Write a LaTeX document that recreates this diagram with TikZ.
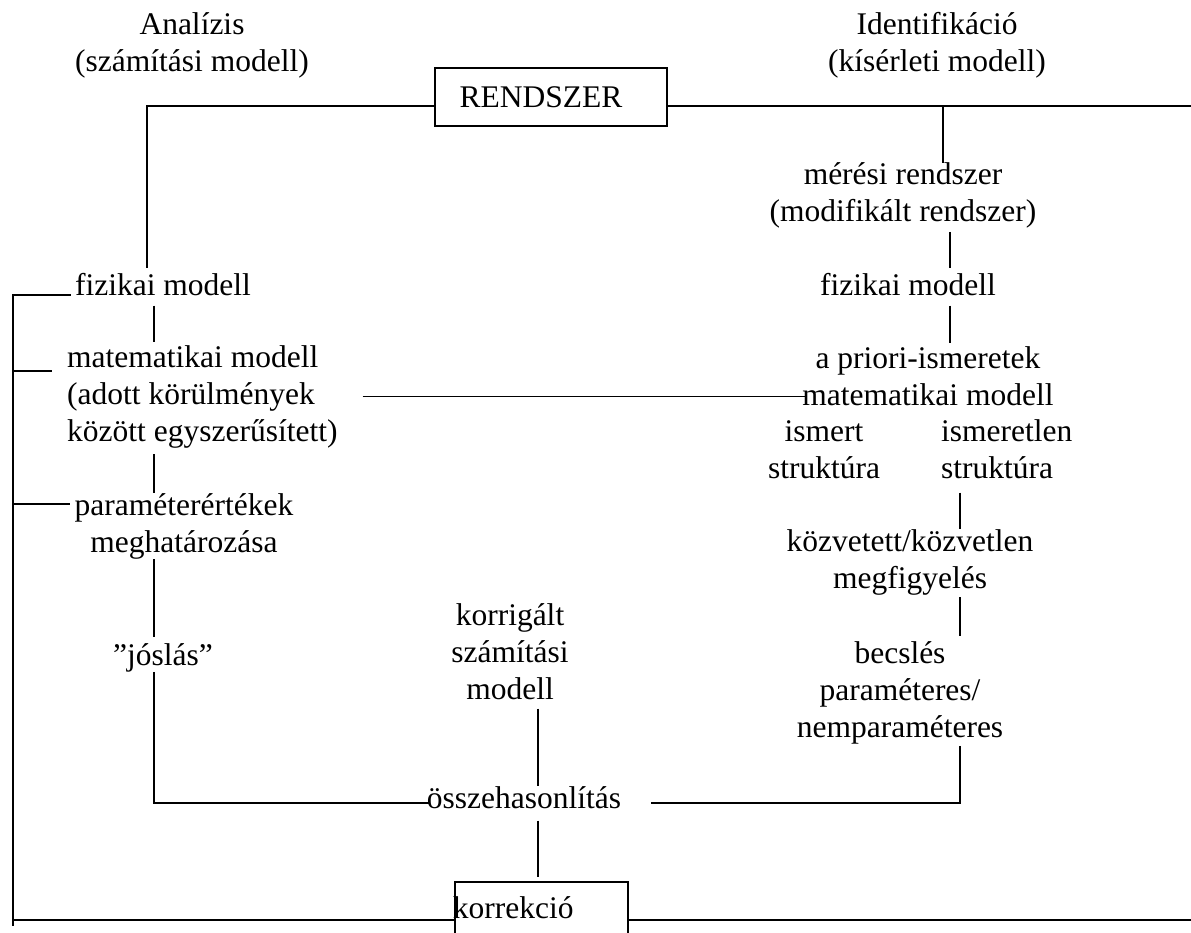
\documentclass[tikz,border=0pt]{standalone}
\usepackage{fontspec}
\setmainfont{Liberation Serif}[Ligatures=NoCommon]
\tikzset{
  lbl/.style={inner sep=0pt, anchor=base, align=center, font=\fontsize{31.5}{37}\selectfont},
  lblL/.style={lbl, anchor=base west, align=left},
  box/.style={draw, line width=1.6pt},
  ln/.style={line width=1.6pt}
}
\begin{document}
\begin{tikzpicture}[x=1pt,y=-1pt]
\useasboundingbox (0,0) rectangle (1191,933);
% headings and the system (multi-line nodes sit on their last baseline)
\node[lbl] (ana) at (192,72) {Analízis\\(számítási modell)};
\node[lbl] (ide) at (937,72) {Identifikáció\\(kísérleti modell)};
\node[lbl, box, anchor=center, minimum width=232pt, minimum height=58pt] (rsz) at (551,97) {RENDSZER\hspace{20pt}};
% left column
\node[lbl] (fizL) at (163,295) {fizikai modell};
\node[lblL] (matL) at (67,441) {matematikai modell\\(adott körülmények\\között egyszerűsített)};
\node[lbl] (parL) at (184,552) {paraméterértékek\\meghatározása};
\node[lbl] (josL) at (163,665) {”jóslás”};
% middle
\node[lbl] (korrT) at (510,699) {korrigált\\számítási\\modell};
\node[lbl] (ossz) at (524,808) {összehasonlítás};
\node[lbl, box, anchor=base west, text width=177pt, align=left, inner xsep=-2pt, inner ysep=0pt, text height=36pt, text depth=30pt] (korr) at (454,918) {korrekció};
% right column
\node[lbl] (mer) at (903,222) {mérési rendszer\\(modifikált rendszer)};
\node[lbl] (fizR) at (908,295) {fizikai modell};
\node[lbl] (apr) at (928,405) {a priori-ismeretek\\matematikai modell};
\node[lbl] (ism) at (824,478) {ismert\\struktúra};
\node[lblL] (isml) at (941,478) {ismeretlen\\struktúra};
\node[lbl] (kozv) at (910,588) {közvetett/közvetlen\\megfigyelés};
\node[lbl] (becs) at (900,737) {becslés\\paraméteres/\\nemparaméteres};
% line positions
\coordinate (spA) at (147,0);
\coordinate (spB) at (943,0);
\coordinate (spC) at (950,0);
\coordinate (spD) at (960,0);
\coordinate (spL) at (154,0);
\coordinate (spM) at (538,0);
\coordinate (spO) at (13,0);
\coordinate (rEdge) at (1191,0);
\coordinate (botL) at (13,920);
\coordinate (botR) at (1191,920);
% top
\draw[ln] ([yshift=-9pt]rsz.west) -- ([yshift=-9pt]rsz.west -| spA) -- ([yshift=5pt]fizL.north -| spA);
\draw[ln] ([yshift=-9pt]rsz.east) -- ([yshift=-9pt]rsz.east -| rEdge);
\draw[ln] ([yshift=-9pt]rsz.east -| spB) -- (mer.north -| spB);
% analysis branch
\draw[ln] ([yshift=-10pt]fizL.south -| spL) -- ([yshift=3pt]matL.north -| spL);
\draw[ln] ([yshift=-6pt]matL.south -| spL) -- (parL.north -| spL);
\draw[ln] (parL.south -| spL) -- ([yshift=6pt]josL.north -| spL);
\draw[ln] (josL.south -| spL) |- ([xshift=3pt,yshift=5pt]ossz.base west);
\draw[ln] ([xshift=25pt]matL.east) -- ([xshift=4pt]apr.west |- matL.east);
% identification branch
\draw[ln] ([yshift=-3pt]mer.south -| spC) -- ([yshift=5pt]fizR.north -| spC);
\draw[ln] ([yshift=-10pt]fizR.south -| spC) -- ([yshift=3pt]apr.north -| spC);
\draw[ln] ([yshift=-14pt]isml.south -| spD) -- (kozv.north -| spD);
\draw[ln] ([yshift=-2pt]kozv.south -| spD) -- ([yshift=5pt]becs.north -| spD);
\draw[ln] ([yshift=-2pt]becs.south -| spD) |- ([xshift=30pt,yshift=5pt]ossz.base east);
% comparison and correction
\draw[ln] ([yshift=-9pt]korrT.south -| spM) -- (ossz.north -| spM);
\draw[ln] ([yshift=-12pt]ossz.south -| spM) -- ([yshift=4pt]korr.north -| spM);
% feedback
\draw[ln] ([xshift=-4pt]fizL.base west) -- (fizL.base west -| spO) -- ([yshift=-6pt]botL);
\draw[ln] (botL) -- (korr.west |- botL);
\draw[ln] (korr.east |- botR) -- (botR);
\draw[ln] ([yshift=70pt]matL.base west -| spO) -- ([xshift=-15pt,yshift=70pt]matL.base west);
\draw[ln] ([yshift=48pt]parL.base west -| spO) -- ([xshift=-5pt,yshift=48pt]parL.base west);
\end{tikzpicture}
\end{document}
